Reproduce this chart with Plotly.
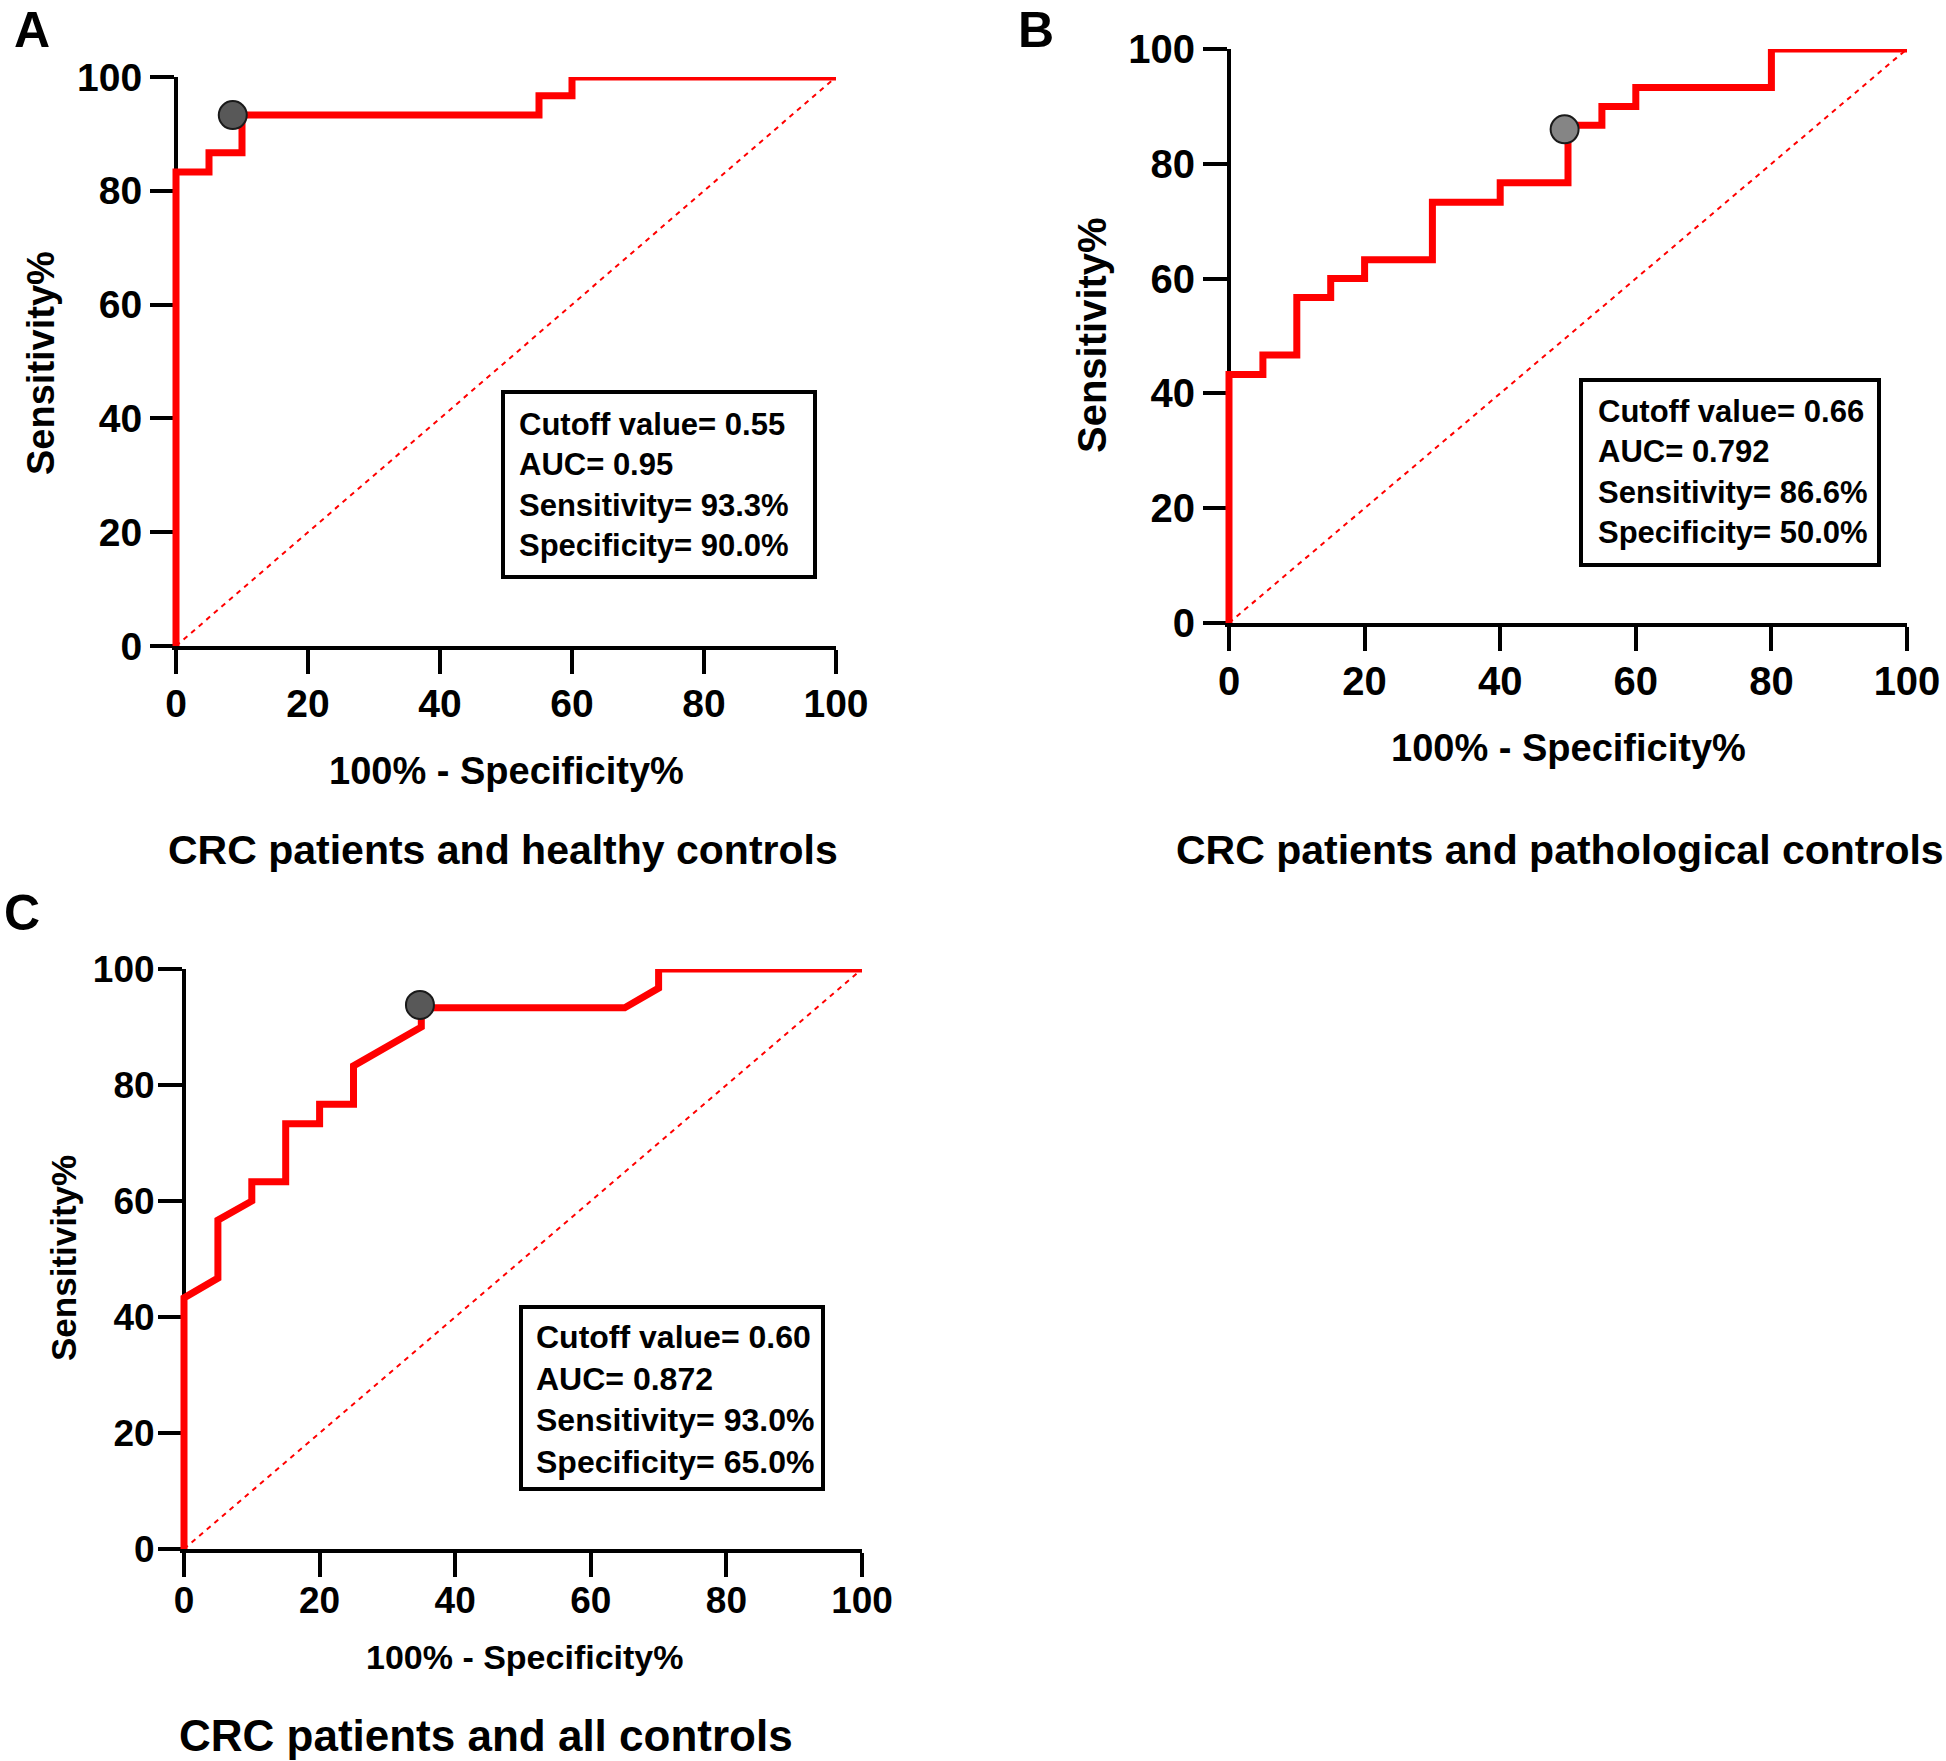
import plotly.graph_objects as go

W, H = 1946, 1761

# ---------------- data ----------------
a_fpr = [0, 0, 5, 5, 10, 10, 55, 55, 60, 60, 100]
a_sens = [0, 83.3, 83.3, 86.7, 86.7, 93.3, 93.3, 96.7, 96.7, 100, 100]
a_cut_x, a_cut_y = [8.6], [93.3]
a_lines = ["Cutoff value= 0.55", "AUC= 0.95", "Sensitivity= 93.3%", "Specificity= 90.0%"]
a_caption = "CRC patients and healthy controls"

b_fpr = [0, 0, 5, 5, 10, 10, 15, 15, 20, 20, 30, 30, 40, 40, 50, 50, 55, 55, 60, 60, 80, 80, 100]
b_sens = [0, 43.3, 43.3, 46.7, 46.7, 56.7, 56.7, 60, 60, 63.3, 63.3, 73.3, 73.3, 76.7, 76.7,
          86.7, 86.7, 90, 90, 93.3, 93.3, 100, 100]
b_cut_x, b_cut_y = [49.5], [86.0]
b_lines = ["Cutoff value= 0.66", "AUC= 0.792", "Sensitivity= 86.6%", "Specificity= 50.0%"]
b_caption = "CRC patients and pathological controls"

c_fpr = [0, 0, 5, 5, 10, 10, 15, 15, 20, 20, 25, 25, 35, 35, 65, 70, 70, 100]
c_sens = [0, 43.3, 46.7, 56.7, 60, 63.3, 63.3, 73.3, 73.3, 76.7, 76.7, 83.3, 90, 93.3, 93.3,
          96.7, 100, 100]
c_cut_x, c_cut_y = [34.8], [93.8]
c_lines = ["Cutoff value= 0.60", "AUC= 0.872", "Sensitivity= 93.0%", "Specificity= 65.0%"]
c_caption = "CRC patients and all controls"

diag = [0, 100]
tick_vals = [0, 20, 40, 60, 80, 100]
tick_text = ["0", "20", "40", "60", "80", "100"]
x_title = "100% - Specificity%"
y_title = "Sensitivity%"

# ---------------- layout geometry (pixels) ----------------
FONT = "Liberation Sans, Arial, sans-serif"
panels = [
    dict(key="A", fpr=a_fpr, sens=a_sens, cx=a_cut_x, cy=a_cut_y, lines=a_lines, cap=a_caption,
         x0=176, x1=836, yb=646, yt=77, tick=39, xstand=-4, ystand=0, xt=(506, 771, 38),
         ytl=(41, 363, 38), sub=(503, 850, 41), box=(503, 815, 392, 577), tl=(517, 485, 31),
         letter=(32, 0), mcol="#585858"),
    dict(key="B", fpr=b_fpr, sens=b_sens, cx=b_cut_x, cy=b_cut_y, lines=b_lines, cap=b_caption,
         x0=1229, x1=1907, yb=623, yt=49, tick=40, xstand=-4, ystand=0, xt=(1568, 748, 38),
         ytl=(1092, 335, 40), sub=(1560, 850, 41), box=(1581, 1879, 380, 565), tl=(1596, 472, 31),
         letter=(1036, 0), mcol="#858585"),
    dict(key="C", fpr=c_fpr, sens=c_sens, cx=c_cut_x, cy=c_cut_y, lines=c_lines, cap=c_caption,
         x0=184, x1=862, yb=1549, yt=969, tick=37, xstand=-8, ystand=-4, xt=(524, 1657, 34),
         ytl=(63, 1258, 35), sub=(486, 1735, 44), box=(521, 823, 1307, 1489), tl=(534, 1399, 32),
         letter=(22, 883), mcol="#585858"),
]

XPAD = 0.6  # data units left of 0 so the x=0 line is not clipped


def fx(x):
    return x / W


def fy(y):
    return 1 - y / H


fig = go.Figure()
annotations = []
shapes = []
layout_axes = {}

for i, p in enumerate(panels):
    n = "" if i == 0 else str(i + 1)
    xa, ya = "x" + n, "y" + n
    scale = (p["x1"] - p["x0"]) / 100.0
    left = p["x0"] - XPAD * scale

    fig.add_trace(go.Scatter(x=diag, y=diag, xaxis=xa, yaxis=ya, mode="lines",
                             line=dict(color="#ff0000", width=2, dash="5px,5px"),
                             showlegend=False, hoverinfo="skip"))
    fig.add_trace(go.Scatter(x=p["fpr"], y=p["sens"], xaxis=xa, yaxis=ya, mode="lines",
                             line=dict(color="#ff0000", width=7), showlegend=False))
    fig.add_trace(go.Scatter(x=p["cx"], y=p["cy"], xaxis=xa, yaxis=ya, mode="markers",
                             marker=dict(size=28, color=p["mcol"],
                                         line=dict(color="#1a1a1a", width=2)),
                             cliponaxis=False, showlegend=False))

    common = dict(tickvals=tick_vals, ticktext=tick_text, ticks="outside", ticklen=24,
                  tickwidth=4, tickcolor="black", showline=True, linewidth=4, linecolor="black",
                  showgrid=False, zeroline=False, layer="below traces", automargin=False,
                  tickfont=dict(family=FONT, size=p["tick"], color="black", weight=700))
    layout_axes["xaxis" + n] = dict(domain=[fx(left), fx(p["x1"])], range=[-XPAD, 100],
                                    anchor=ya, ticklabelstandoff=p["xstand"], **common)
    layout_axes["yaxis" + n] = dict(domain=[fy(p["yb"]), fy(p["yt"])], range=[0, 100],
                                    anchor="free", position=fx(p["x0"]),
                                    ticklabelstandoff=p["ystand"], **common)

    # axis titles, caption, panel letter
    x, y, s = p["xt"]
    annotations.append(dict(x=fx(x), y=fy(y), xref="paper", yref="paper", text=x_title,
                            showarrow=False, xanchor="center", yanchor="middle",
                            font=dict(family=FONT, size=s, color="black", weight=700)))
    x, y, s = p["ytl"]
    annotations.append(dict(x=fx(x), y=fy(y), xref="paper", yref="paper", text=y_title,
                            showarrow=False, xanchor="center", yanchor="middle", textangle=-90,
                            font=dict(family=FONT, size=s, color="black", weight=700)))
    x, y, s = p["sub"]
    annotations.append(dict(x=fx(x), y=fy(y), xref="paper", yref="paper", text=p["cap"],
                            showarrow=False, xanchor="center", yanchor="middle",
                            font=dict(family=FONT, size=s, color="black", weight=700)))
    x, y = p["letter"]
    annotations.append(dict(x=fx(x), y=fy(y), xref="paper", yref="paper", text=p["key"],
                            showarrow=False, xanchor="center", yanchor="top",
                            font=dict(family=FONT, size=50, color="black", weight=700)))

    # info box
    bx0, bx1, by0, by1 = p["box"]
    shapes.append(dict(type="rect", xref="paper", yref="paper", x0=fx(bx0), x1=fx(bx1),
                       y0=fy(by1), y1=fy(by0), line=dict(color="black", width=4),
                       fillcolor="white", layer="above"))
    tx, ty, ts = p["tl"]
    annotations.append(dict(x=fx(tx), y=fy(ty), xref="paper", yref="paper",
                            text="<br>".join(p["lines"]), showarrow=False, align="left",
                            xanchor="left", yanchor="middle",
                            font=dict(family=FONT, size=ts, color="black", weight=700)))

fig.update_layout(width=W, height=H, margin=dict(l=0, r=0, t=0, b=0, pad=0, autoexpand=False),
                  paper_bgcolor="white", plot_bgcolor="white", showlegend=False,
                  annotations=annotations, shapes=shapes, **layout_axes)

fig.write_html("out.html", config={"displayModeBar": False},
               post_script="document.body.style.margin='0';document.body.style.overflow='hidden';")
